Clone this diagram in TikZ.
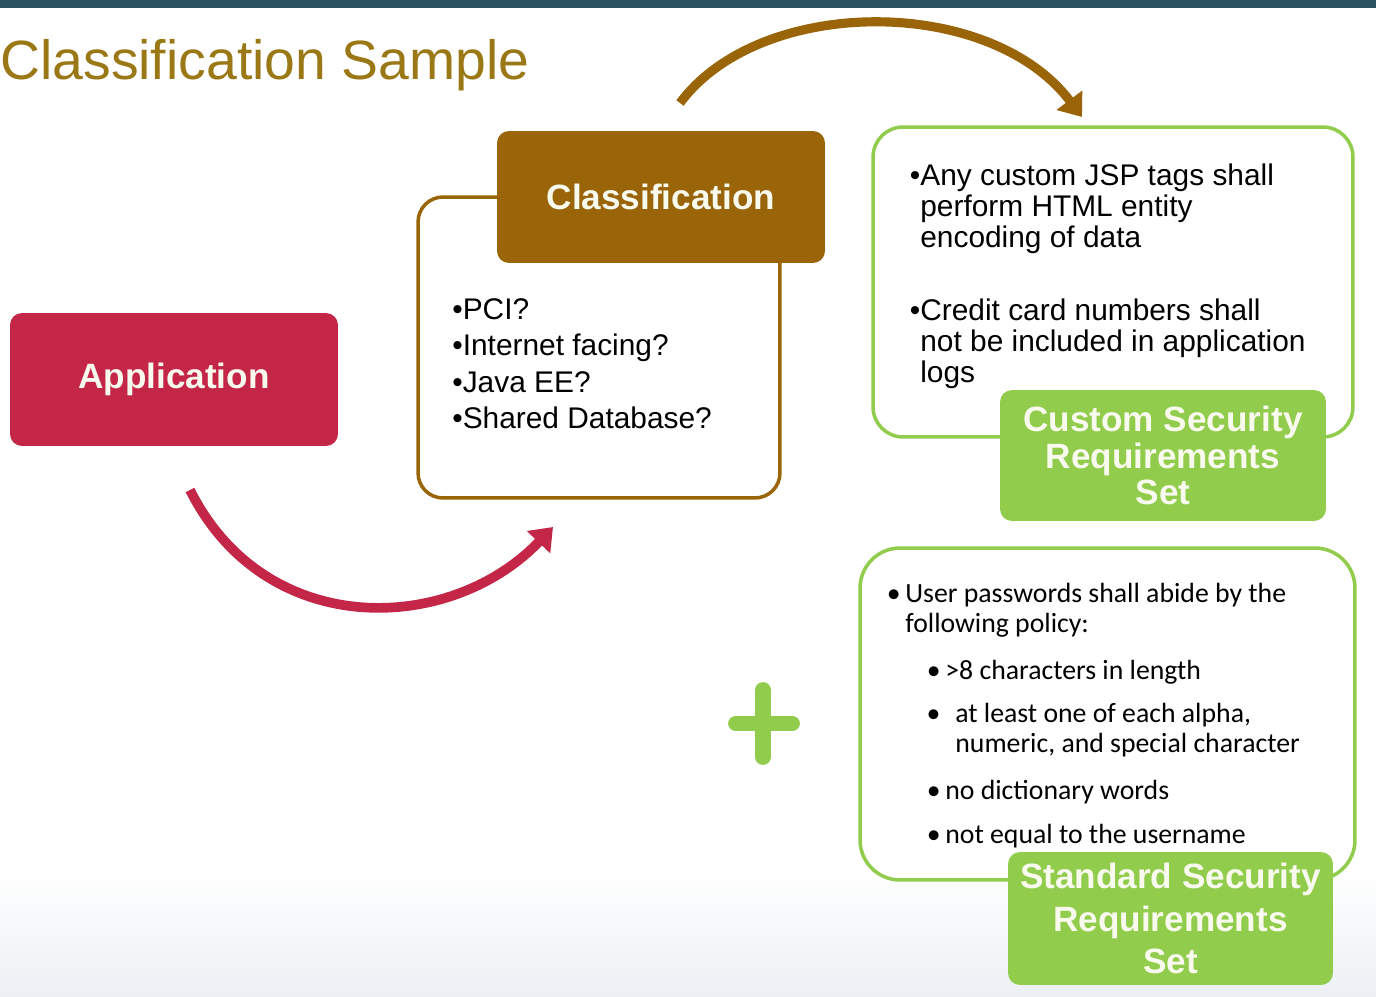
\documentclass[tikz,border=0pt]{standalone}
\usepackage{fontspec}
\setmainfont{Liberation Sans}
\newfontfamily\calfont{Carlito}
\usetikzlibrary{arrows.meta}

\definecolor{appred}{RGB}{196,38,72}
\definecolor{clsbrown}{RGB}{153,101,8}
\definecolor{titlebrown}{RGB}{155,120,22}
\definecolor{reqgreen}{RGB}{146,204,76}
\definecolor{bandteal}{RGB}{42,82,96}
\definecolor{floorgrey}{RGB}{236,240,244}
\definecolor{labelwhite}{RGB}{248,250,238}

\tikzset{
  filledbox/.style={rounded corners=0.24cm, inner sep=0pt, text=labelwhite,
    font=\fontsize{20}{21}\selectfont\bfseries, align=center},
  outlinebox/.style={draw, line width=2pt, fill=white, inner sep=0pt},
  listtext/.style={inner sep=0pt, anchor=north west, align=left},
  bigarrow/.style={line width=5.5pt, -{Triangle[length=0.42cm,width=0.62cm]}},
}

\begin{document}
\begin{tikzpicture}[x=0.02cm,y=-0.02cm]

  \useasboundingbox (0,0) rectangle (1376,997);

  % page: white, dark band on top, soft grey at the bottom
  \fill[white] (0,0) rectangle (1376,997);
  \shade[top color=white,bottom color=floorgrey] (0,870) rectangle (1376,997);
  \fill[bandteal] (0,0) rectangle (1376,8);

  % title
  \node[anchor=base west, inner sep=0pt, text=titlebrown,
        font=\fontsize{31.5}{36}\selectfont] (title) at (0,80) {Classification Sample};

  % application
  \node[filledbox, fill=appred, minimum width=6.56cm, minimum height=2.66cm]
        (app) at (174,379.5) {Application};

  % classification questions
  \node[outlinebox, draw=clsbrown, rounded corners=0.5cm,
        minimum width=7.24cm, minimum height=6.02cm] (clsframe) at (599,347.5) {};
  \node[filledbox, fill=clsbrown, minimum width=6.56cm, minimum height=2.64cm]
        (cls) at (661,197) {Classification};
  \node[listtext, font=\fontsize{17}{20.8}\selectfont] (clslist) at (452,298)
        {•PCI?\\•Internet facing?\\•Java EE?\\•Shared Database?};

  % custom requirements
  \node[outlinebox, draw=reqgreen, rounded corners=0.6cm,
        minimum width=9.6cm, minimum height=6.2cm] (customframe) at (1113,282) {};
  \node[listtext, font=\fontsize{17}{17.6}\selectfont] (customlist) at (920,164)
        {\llap{•}Any custom JSP tags shall\\perform HTML entity\\encoding of data\\[24pt]%
         \llap{•}Credit card numbers shall\\not be included in application\\logs};
  \node[filledbox, fill=reqgreen, minimum width=6.52cm, minimum height=2.62cm]
        (customset) at (1163,455.5) {Custom Security\\Requirements\\Set};

  % standard requirements
  \node[outlinebox, draw=reqgreen, rounded corners=0.8cm,
        minimum width=9.9cm, minimum height=6.64cm] (stdframe) at (1107.5,714) {};
  \node[listtext, font=\calfont\fontsize{15.8}{17}\selectfont] (stdlist) at (905,583)
        {\llap{•\,}User passwords shall abide by the\\following policy:\\[9.5pt]%
         \hspace*{0.8cm}\llap{•\,}>8 characters in length\\[8pt]%
         \hspace*{1cm}\llap{•\hspace{0.3cm}}at least one of each alpha,\\%
         \hspace*{1cm}numeric, and special character\\[9.5pt]%
         \hspace*{0.8cm}\llap{•\,}no dictionary words\\[8pt]%
         \hspace*{0.8cm}\llap{•\,}not equal to the username};
  \node[filledbox, fill=reqgreen, minimum width=6.5cm, minimum height=2.66cm,
        font=\fontsize{20}{24}\selectfont\bfseries]
        (stdset) at (1170.5,918.5) {Standard Security\\Requirements\\Set};

  % plus sign
  \draw[reqgreen, line width=9pt, line cap=round]
        (736,723.5) -- (792,723.5) (763,690) -- (763,757);

  % curved arrows
  \coordinate (redstart) at (190,490);
  \coordinate (redend) at (553,527);
  \draw[bigarrow, appred] (redstart) .. controls (265,640) and (450,635) .. (redend);
  \coordinate (brownstart) at (680,103);
  \coordinate (brownend) at (1082,117);
  \draw[bigarrow, clsbrown, line width=5.2pt]
        (brownstart) .. controls (760,-5) and (990,-5) .. (brownend);

\end{tikzpicture}
\end{document}
